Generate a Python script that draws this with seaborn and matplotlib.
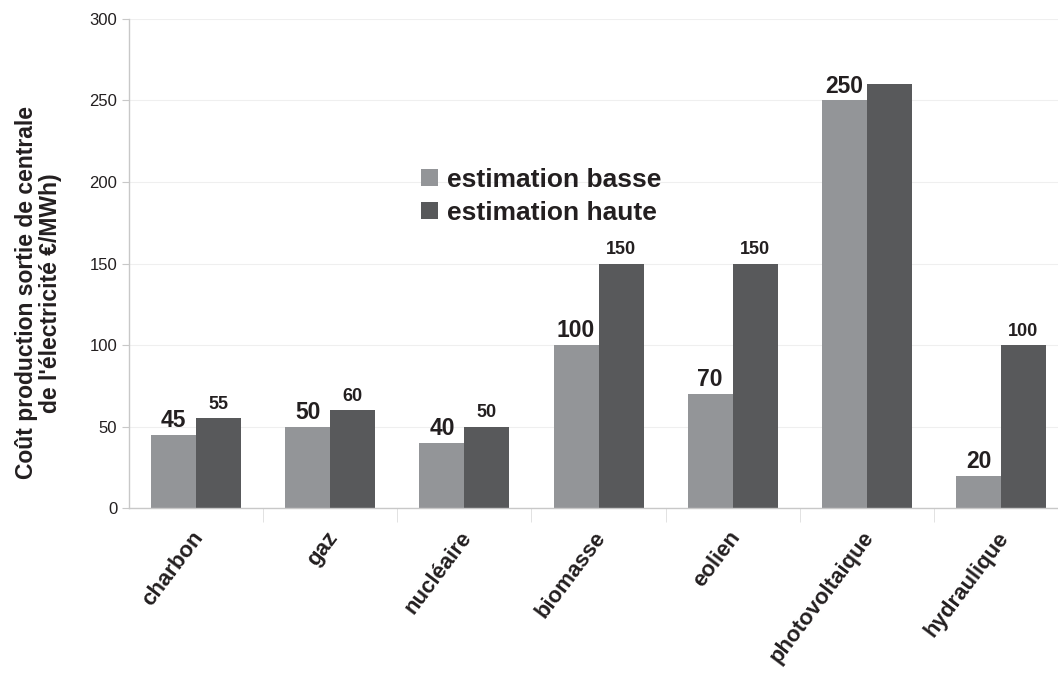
import pandas as pd
import matplotlib.pyplot as plt
import matplotlib.transforms as mtransforms
import seaborn as sns

# Data
categories = ['charbon', 'gaz', 'nucléaire', 'biomasse', 'eolien', 'photovoltaique', 'hydraulique']
basse = [45, 50, 40, 100, 70, 250, 20]
haute = [55, 60, 50, 150, 150, 260, 100]
series = ['estimation basse', 'estimation haute']

df = pd.DataFrame({
    'categorie': categories * 2,
    'cout': basse + haute,
    'serie': [series[0]] * len(categories) + [series[1]] * len(categories),
})

sns.set_style('white')
plt.rcParams['font.family'] = ['Liberation Sans', 'DejaVu Sans']
text_col = '#231f20'

fig = plt.figure(figsize=(10.58, 6.74), dpi=100)
ax = fig.add_axes([0.122, 0.246, 0.878, 0.726])

sns.barplot(data=df, x='categorie', y='cout', hue='serie', order=categories,
            palette=['#939598', '#58595b'], width=0.67, saturation=1,
            edgecolor='none', linewidth=0, ax=ax)

# Value labels (the high photovoltaic bar has none in the original)
low_labels = [str(v) for v in basse]
high_labels = ['' if c == 'photovoltaique' else str(v) for c, v in zip(categories, haute)]
ax.bar_label(ax.containers[0], labels=low_labels, padding=2, fontsize=16.5,
             fontweight='bold', color=text_col)
ax.bar_label(ax.containers[1], labels=high_labels, padding=4, fontsize=13,
             fontweight='bold', color=text_col)

ax.set_ylim(0, 300)
ax.set_yticks(range(0, 301, 50))
ax.set_xlim(-0.5, 6.425)
ax.yaxis.grid(True, color='#efefef', linewidth=0.8)
ax.set_axisbelow(True)

for side in ['top', 'right']:
    ax.spines[side].set_visible(False)
for side in ['left', 'bottom']:
    ax.spines[side].set_color('#c8c8c8')
    ax.spines[side].set_linewidth(1)

ax.tick_params(axis='y', labelsize=12, colors=text_col, length=5, color='#c8c8c8',
               direction='out', left=True)
ax.set_xticks(range(len(categories)))
ax.set_xticklabels(categories, rotation=53, ha='right', rotation_mode='anchor',
                   fontsize=16, fontweight='bold', color=text_col)
ax.tick_params(axis='x', length=0, pad=14)
shift = mtransforms.ScaledTranslation(-5 / 100, 0, fig.dpi_scale_trans)
for lab in ax.get_xticklabels():
    lab.set_transform(lab.get_transform() + shift)
ax.set_xticks([i + 0.5 for i in range(len(categories) - 1)], minor=True)
ax.tick_params(axis='x', which='minor', length=10, color='#dddddd', bottom=True)

ax.set_xlabel('')
ax.set_ylabel("Coût production sortie de centrale\nde l'électricité €/MWh)",
              fontsize=16.5, fontweight='bold', color=text_col, linespacing=1.05)
ax.yaxis.set_label_coords(-0.072, 0.44)

leg = ax.legend(loc='upper left', bbox_to_anchor=(0.300, 0.723), frameon=False,
                prop={'size': 19, 'weight': 'bold'}, handlelength=0.65, handleheight=0.65,
                handletextpad=0.35, labelspacing=0.35, borderpad=0)
for t in leg.get_texts():
    t.set_color(text_col)

fig.savefig('out.png', dpi=100)
